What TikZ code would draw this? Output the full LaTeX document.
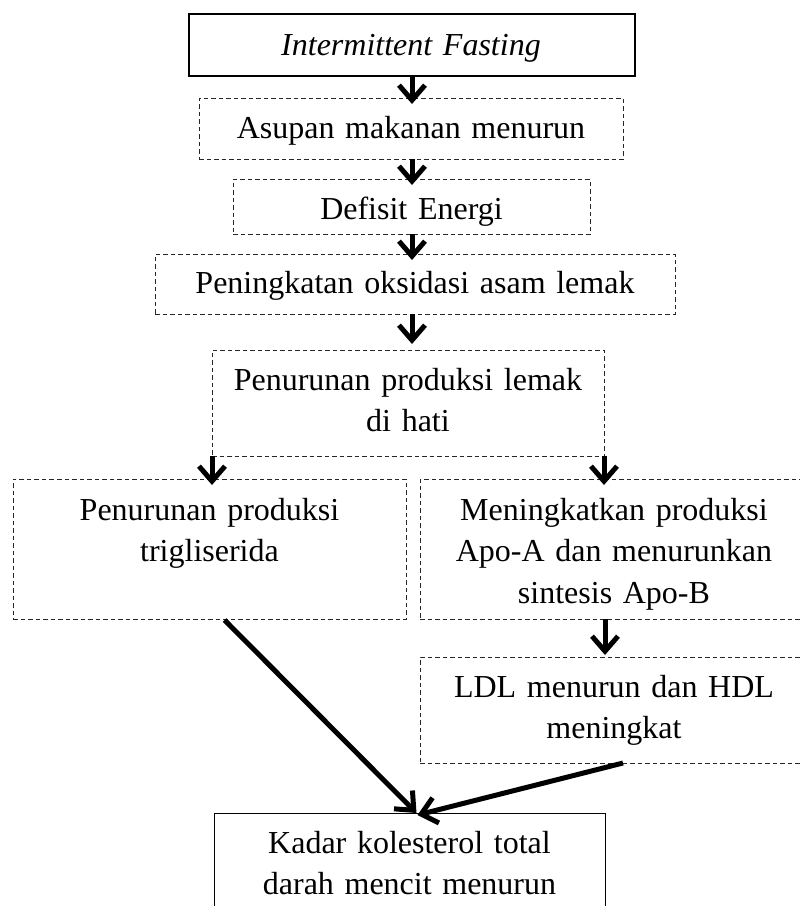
\documentclass[tikz,border=0pt]{standalone}
\usepackage{fontspec}
\setmainfont{Liberation Serif}
\usetikzlibrary{arrows.meta,calc}
\begin{document}
\begin{tikzpicture}[x=1pt,y=-1pt,
 dbox/.style={draw=black!85, line width=1pt, dash pattern=on 4.5pt off 3pt, inner sep=0pt, outer sep=0pt},
 sbox/.style={draw=black, line width=1pt, inner sep=0pt, outer sep=0pt},
 txt/.style={font=\fontsize{32}{41.5}\selectfont, align=center, inner sep=0pt, anchor=base, text width=600pt},
 arr/.style={line width=5pt, line cap=butt, -{Straight Barb[length=15pt,width=26pt]}}]
\useasboundingbox (0,0) rectangle (800,906);
\clip (0,0) rectangle (800,906);
% boxes
\node[sbox, line width=2pt, minimum width=446pt, minimum height=62pt] (b1) at (412,45) {};
\node[dbox, minimum width=424pt, minimum height=61pt] (b2) at (411,128.5) {};
\node[dbox, minimum width=357pt, minimum height=55pt] (b3) at (411.5,206.5) {};
\node[dbox, minimum width=520pt, minimum height=60pt] (b4) at (415,284) {};
\node[dbox, minimum width=392pt, minimum height=106pt] (b5) at (408,403) {};
\node[dbox, minimum width=393pt, minimum height=140pt] (b6) at (209.5,549) {};
\node[dbox, minimum width=388pt, minimum height=140pt] (b7) at (614,549) {};
\node[dbox, minimum width=388pt, minimum height=106pt] (b8) at (614,710) {};
\node[sbox, minimum width=391pt, minimum height=107pt] (b9) at (409.5,866.5) {};
% texts
\node[txt] (t1) at (411,55) {\itshape Intermittent Fasting};
\node[txt] (t2) at (411,138) {Asupan makanan menurun};
\node[txt] (t3) at (411.5,219) {Defisit Energi};
\node[txt] (t4) at (415,293) {Peningkatan oksidasi asam lemak};
\node[txt] (t5) at (408,390) {Penurunan produksi lemak\\di hati};
\node[txt] (t6) at (209.5,520) {Penurunan produksi\\trigliserida};
\node[txt] (t7) at (614,520) {Meningkatkan produksi\\Apo-A dan menurunkan\\sintesis Apo-B};
\node[txt] (t8) at (614,697) {LDL menurun dan HDL\\meningkat};
\node[txt] (t9) at (409.5,853) {Kadar kolesterol total\\darah mencit menurun};
% arrows
\draw[arr] (b1.south) -- ($(b1.south |- b2.north)+(0,6)$);
\draw[arr] (b1.south |- b2.south) -- ($(b1.south |- b3.north)+(0,6)$);
\draw[arr] (b1.south |- b3.south) -- ($(b1.south |- b4.north)+(0,6)$);
\draw[arr] (b1.south |- b4.south) -- ($(b1.south |- b5.north)+(0,-6)$);
\draw[arr] (b5.south west) -- ($(b5.south west |- b6.north)+(0,6)$);
\draw[arr] (b5.south east) -- ($(b5.south east |- b7.north)+(0,6)$);
\draw[arr] ($(b7.south)+(-9,0)$) -- ($(b8.north)+(-9,-2)$);
\draw[arr] ($(b6.south)+(15,1)$) -- ($(b9.north)+(7,0)$);
\draw[arr] ($(b8.south)+(9,0)$) -- ($(b9.north)+(8,2)$);
\end{tikzpicture}
\end{document}
